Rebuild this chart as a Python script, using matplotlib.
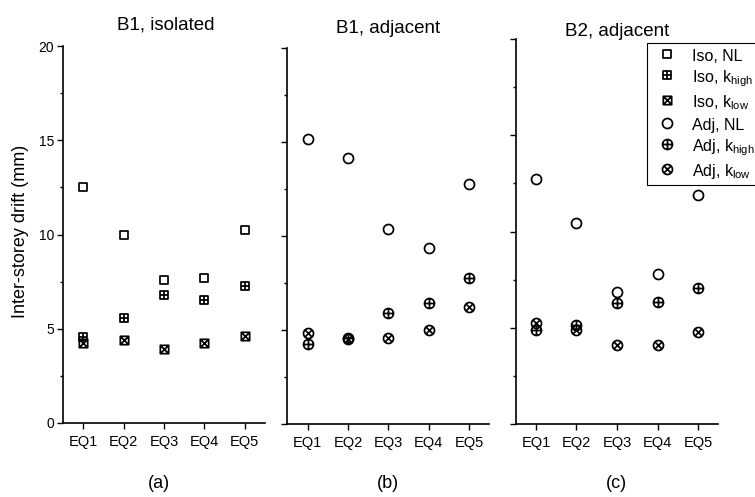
import matplotlib
matplotlib.use("Agg")
import matplotlib.pyplot as plt
from matplotlib.path import Path
from matplotlib.lines import Line2D
from matplotlib.ticker import MultipleLocator

plt.rcParams['font.family'] = ['Liberation Sans', 'DejaVu Sans']
plt.rcParams['mathtext.fontset'] = 'custom'
plt.rcParams['mathtext.rm'] = 'Liberation Sans'
plt.rcParams['mathtext.it'] = 'Liberation Sans'

# ---------------- data ----------------
eq_labels = ['EQ1', 'EQ2', 'EQ3', 'EQ4', 'EQ5']
panel_titles = ['B1, isolated', 'B1, adjacent', 'B2, adjacent']
panel_tags = ['(a)', '(b)', '(c)']

b1_iso_nl = [12.5, 10.0, 7.58, 7.69, 10.24]
b1_iso_khigh = [4.57, 5.55, 6.78, 6.55, 7.26]
b1_iso_klow = [4.22, 4.38, 3.94, 4.22, 4.63]

b1_adj_nl = [15.15, 14.15, 10.4, 9.39, 12.78]
b1_adj_khigh = [4.25, 4.57, 5.9, 6.47, 7.75]
b1_adj_klow = [4.87, 4.52, 4.59, 5.02, 6.22]

b2_adj_nl = [12.73, 10.45, 6.86, 7.78, 11.92]
b2_adj_khigh = [4.86, 5.12, 6.28, 6.32, 7.06]
b2_adj_klow = [5.26, 4.9, 4.1, 4.1, 4.77]

legend_labels = ['Iso, NL', r'Iso, k$_{\mathrm{high}}$', r'Iso, k$_{\mathrm{low}}$',
                 'Adj, NL', r'Adj, k$_{\mathrm{high}}$', r'Adj, k$_{\mathrm{low}}$']

# ---------------- markers ----------------
M, L, C = Path.MOVETO, Path.LINETO, Path.CLOSEPOLY
square = Path([(-1, -1), (1, -1), (1, 1), (-1, 1), (-1, -1)], [M, L, L, L, C])
plus_sq = Path([(-1, 0), (1, 0), (0, -1), (0, 1)], [M, L, M, L])
cross_sq = Path([(-1, -1), (1, 1), (-1, 1), (1, -1)], [M, L, M, L])
circle = Path.unit_circle()
r = 0.7071
cross_c = Path([(-r, -r), (r, r), (-r, r), (r, -r)], [M, L, M, L])

m_sq = square
m_sq_plus = Path.make_compound_path(square, plus_sq)
m_sq_x = Path.make_compound_path(square, cross_sq)
m_c = circle
m_c_plus = Path.make_compound_path(circle, plus_sq)
m_c_x = Path.make_compound_path(circle, cross_c)

sq_size = 6.0
c_size = 7.2
mew = 1.25

styles = [
    dict(marker=m_sq, markersize=sq_size),
    dict(marker=m_sq_plus, markersize=sq_size),
    dict(marker=m_sq_x, markersize=sq_size),
    dict(marker=m_c, markersize=c_size),
    dict(marker=m_c_plus, markersize=c_size),
    dict(marker=m_c_x, markersize=c_size),
]

fig = plt.figure(figsize=(7.55, 4.97), dpi=100)
W, H = 755.0, 497.0

def axes_px(left, right, top, bottom):
    return fig.add_axes([left / W, (H - bottom) / H, (right - left) / W, (bottom - top) / H])

ax_a = axes_px(63, 265, 46, 423)
ax_b = axes_px(287.3, 489.3, 48, 424.3)
ax_c = axes_px(515.7, 718.3, 39, 424)
axes = [ax_a, ax_b, ax_c]

x = list(range(1, 6))

def draw(ax, series, idx):
    for s, i in zip(series, idx):
        ax.plot(x, s, linestyle='none', color='black', markerfacecolor='none',
                markeredgecolor='black', markeredgewidth=mew, **styles[i])

draw(ax_a, [b1_iso_nl, b1_iso_khigh, b1_iso_klow], [0, 1, 2])
draw(ax_b, [b1_adj_nl, b1_adj_khigh, b1_adj_klow], [3, 4, 5])
draw(ax_c, [b2_adj_nl, b2_adj_khigh, b2_adj_klow], [3, 4, 5])

for k, ax in enumerate(axes):
    ax.set_xlim(0.5, 5.5)
    ax.set_ylim(0, 20)
    ax.spines['top'].set_visible(False)
    ax.spines['right'].set_visible(False)
    ax.spines['left'].set_linewidth(1.2)
    ax.spines['bottom'].set_linewidth(1.2)
    ax.set_xticks(x)
    ax.set_xticklabels(eq_labels, fontsize=10.5)
    ax.yaxis.set_major_locator(MultipleLocator(5))
    ax.yaxis.set_minor_locator(MultipleLocator(2.5))
    ax.tick_params(axis='both', which='major', length=4.5, width=1.0, direction='out')
    ax.tick_params(axis='y', which='minor', length=2.5, width=1.0, direction='out')
    ax.tick_params(axis='y', labelsize=10, pad=2)
    ax.tick_params(axis='x', pad=4)
    if k > 0:
        ax.tick_params(axis='y', labelleft=False)

fig.text(21 / W, (H - 231) / H, 'Inter-storey drift (mm)', rotation=90,
         ha='center', va='center', fontsize=13)

# titles and panel tags
title_pos = [(166, 29.3), (388.3, 33.3), (617, 36)]
for t, (px, py) in zip(panel_titles, title_pos):
    fig.text(px / W, (H - py) / H, t, ha='center', va='baseline', fontsize=13.5)
tag_pos = [159, 388, 616]
for t, px in zip(panel_tags, tag_pos):
    fig.text(px / W, (H - 484) / H, t, ha='center', va='center', fontsize=13)

handles = [Line2D([], [], linestyle='none', color='black', markerfacecolor='none',
                  markeredgecolor='black', markeredgewidth=mew, **st) for st in styles]
leg = fig.legend(handles, legend_labels, loc='upper left',
                 bbox_to_anchor=(647 / W, (H - 43) / H), bbox_transform=fig.transFigure,
                 fontsize=11.5, frameon=True, fancybox=False, edgecolor='black',
                 framealpha=1, borderaxespad=0, handlelength=2.0, handletextpad=0.55,
                 handleheight=1.3, labelspacing=0.25, borderpad=0.25)
leg.get_frame().set_linewidth(0.8)

fig.savefig('out.png', dpi=100)
